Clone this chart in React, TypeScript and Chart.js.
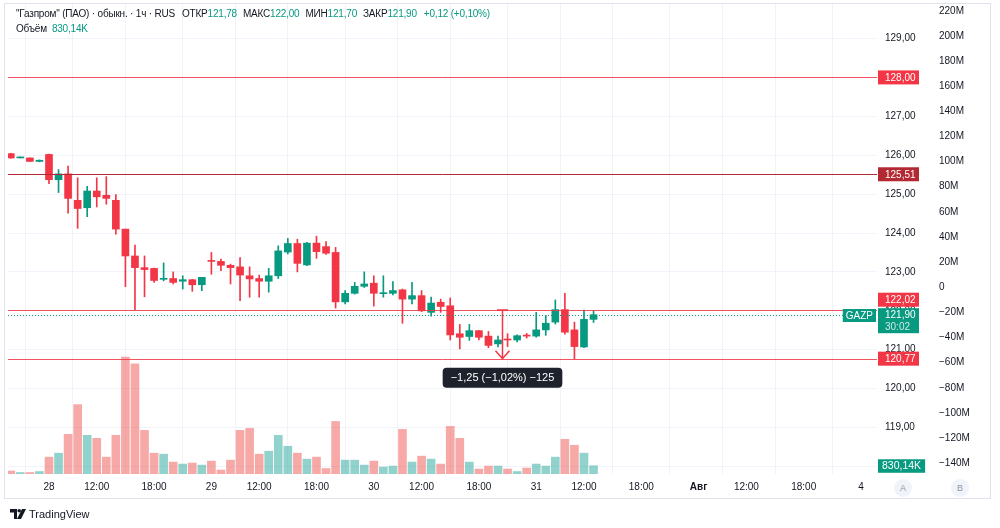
import React, { useEffect, useRef } from 'react';
import { Chart, registerables } from 'chart.js';

Chart.register(...registerables);

// ---------- data ----------
const opens = [126.04, 125.93, 125.93, 125.84, 126.02, 125.37, 125.52, 124.84, 124.65, 125.08,
  124.97, 124.84, 124.10, 123.41, 123.11, 123.09, 122.81, 122.83, 122.76, 122.80,
  122.67, 123.29, 123.27, 123.17, 123.13, 122.90, 122.83, 122.76, 122.90, 123.51,
  123.73, 123.18, 123.74, 123.65, 123.50, 122.23, 122.45, 122.63, 122.71, 122.44,
  122.45, 122.54, 122.30, 122.39, 121.96, 122.22, 122.13, 121.41, 121.34, 121.49,
  121.35, 121.15, 121.27, 121.25, 121.37, 121.35, 121.51, 121.71, 122.03, 121.51,
  121.07, 121.78];
const highs = [126.05, 125.94, 125.93, 125.88, 126.03, 125.63, 125.72, 125.42, 125.20, 125.42,
  125.45, 124.99, 124.10, 123.69, 123.41, 123.10, 123.23, 123.00, 122.90, 122.81,
  122.86, 123.50, 123.33, 123.20, 123.37, 123.13, 122.92, 123.09, 123.67, 123.86,
  123.84, 123.76, 123.92, 123.78, 123.63, 122.52, 122.73, 123.00, 122.90, 122.90,
  122.75, 122.56, 122.73, 122.52, 122.35, 122.30, 122.33, 121.65, 121.65, 121.50,
  121.47, 121.35, 121.41, 121.38, 121.42, 121.96, 121.88, 122.28, 122.45, 121.71,
  122.02, 122.00];
const lows = [125.92, 125.93, 125.84, 125.83, 125.27, 125.04, 124.51, 124.12, 124.42, 124.67,
  124.74, 123.97, 122.62, 122.03, 122.36, 122.73, 122.77, 122.69, 122.56, 122.50,
  122.52, 122.94, 123.03, 122.69, 122.26, 122.35, 122.35, 122.48, 122.83, 123.46,
  123.00, 123.16, 123.35, 123.45, 122.07, 122.18, 122.43, 122.60, 122.12, 122.35,
  122.41, 121.68, 122.18, 121.98, 121.86, 121.96, 121.25, 121.02, 121.24, 121.25,
  121.05, 121.07, 121.08, 121.20, 121.30, 121.32, 121.37, 121.66, 121.40, 120.77,
  121.05, 121.70];
const closes = [125.93, 125.94, 125.84, 125.87, 125.37, 125.52, 124.89, 124.63, 125.08, 124.93,
  124.89, 124.10, 123.41, 123.11, 123.06, 122.78, 122.83, 122.73, 122.80, 122.67,
  122.86, 123.27, 123.17, 123.11, 122.92, 122.82, 122.76, 122.90, 123.54, 123.73,
  123.22, 123.74, 123.52, 123.48, 122.23, 122.45, 122.63, 122.69, 122.45, 122.46,
  122.52, 122.30, 122.39, 122.00, 122.20, 122.11, 121.38, 121.32, 121.49, 121.32,
  121.11, 121.25, 121.25, 121.36, 121.35, 121.51, 121.68, 122.03, 121.45, 121.08,
  121.78, 121.90];
// volume, millions of shares
const volumes = [0.30, 0.15, 0.15, 0.25, 1.70, 2.10, 4.00, 7.00, 3.90, 3.60,
  1.70, 3.90, 11.80, 11.10, 4.40, 2.10, 2.00, 1.20, 1.00, 1.10,
  0.90, 1.30, 0.40, 1.40, 4.40, 4.60, 2.00, 2.30, 3.90, 2.80,
  2.10, 1.50, 1.70, 0.55, 5.30, 1.40, 1.40, 0.90, 1.30, 0.70,
  0.80, 4.50, 1.20, 1.80, 1.50, 1.00, 4.80, 3.60, 1.20, 0.50,
  0.80, 0.80, 0.50, 0.25, 0.60, 1.00, 0.80, 1.70, 3.50, 2.90,
  2.10, 0.83014];

const xTickIndex = [4, 9, 15, 21, 26, 32, 38, 43, 49, 55, 60, 66, 72, 77, 83, 89];
const xTickLabels = ['28', '12:00', '18:00', '29', '12:00', '18:00', '30', '12:00', '18:00', '31', '12:00', '18:00', 'Авг', '12:00', '18:00', '4'];
const priceTicks = [118, 119, 120, 121, 122, 123, 124, 125, 126, 127, 128, 129];
const volAxisTicks = [-140, -120, -100, -80, -60, -40, -20, 0, 20, 40, 60, 80, 100, 120, 140, 160, 180, 200, 220];

const levelLines = [128.0, 125.51, 122.02, 120.77];
const levelKinds = ['red', 'dark', 'red', 'red'];
const measureFrom = 122.02;
const measureTo = 120.77;
const measureBar = 51.4;
const symbol = 'GAZP';
const timer = '30:02';
const titleText = '"Газпром" (ПАО) · обыкн. · 1ч · RUS';

// ---------- style ----------
const UP = '#089981';
const DOWN = '#F23645';
const DARK_RED = '#B22833';
const UP_VOL = 'rgba(38,166,154,0.5)';
const DOWN_VOL = 'rgba(239,83,80,0.5)';
const TEXT = '#131722';
const GRID = '#F0F3FA';
const FONT = '"Liberation Sans", Arial, sans-serif';

const fmt = (v: number) => v.toFixed(2).replace('.', ',');
const signed = (v: number, s: string) => (v < 0 ? '\u2212' : '+') + s;
const fmtVolK = (v: number) => (v * 1000).toFixed(2).replace('.', ',') + 'K';

const lastO = opens[opens.length - 1];
const lastH = highs[highs.length - 1];
const lastL = lows[lows.length - 1];
const lastC = closes[closes.length - 1];
const prevC = closes[closes.length - 2];
const chg = lastC - prevC;
const chgPct = (chg / prevC) * 100;

function roundRect(ctx: CanvasRenderingContext2D, x: number, y: number, w: number, h: number, r: number) {
  ctx.beginPath();
  ctx.moveTo(x + r, y);
  ctx.lineTo(x + w - r, y);
  ctx.quadraticCurveTo(x + w, y, x + w, y + r);
  ctx.lineTo(x + w, y + h - r);
  ctx.quadraticCurveTo(x + w, y + h, x + w - r, y + h);
  ctx.lineTo(x + r, y + h);
  ctx.quadraticCurveTo(x, y + h, x, y + h - r);
  ctx.lineTo(x, y + r);
  ctx.quadraticCurveTo(x, y, x + r, y);
  ctx.closePath();
}

const overlayPlugin = {
  id: 'overlay',
  afterDatasetsDraw(chart: any) {
    const { ctx, chartArea: ca, scales } = chart;
    const y = scales.y;
    const x = scales.x;
    ctx.save();
    ctx.beginPath();
    ctx.rect(ca.left, ca.top, ca.right - ca.left, ca.bottom - ca.top);
    ctx.clip();
    levelLines.forEach((lv, i) => {
      const py = Math.round(y.getPixelForValue(lv)) + 0.5;
      ctx.strokeStyle = levelKinds[i] === 'dark' ? DARK_RED : 'rgba(242,54,69,0.85)';
      ctx.lineWidth = 1;
      ctx.beginPath();
      ctx.moveTo(ca.left, py);
      ctx.lineTo(ca.right, py);
      ctx.stroke();
    });
    const cy = Math.round(y.getPixelForValue(lastC)) + 0.5;
    ctx.strokeStyle = UP;
    ctx.setLineDash([1, 2]);
    ctx.beginPath();
    ctx.moveTo(ca.left, cy);
    ctx.lineTo(ca.right, cy);
    ctx.stroke();
    ctx.setLineDash([]);
    const mx = Math.round(x.getPixelForValue(measureBar)) + 0.5;
    const yt = y.getPixelForValue(measureFrom);
    const yb = y.getPixelForValue(measureTo);
    ctx.strokeStyle = DOWN;
    ctx.lineWidth = 1.5;
    ctx.beginPath();
    ctx.moveTo(mx, yt);
    ctx.lineTo(mx, yb);
    ctx.moveTo(mx - 5.5, yt);
    ctx.lineTo(mx + 5.5, yt);
    ctx.moveTo(mx - 7, yb - 8);
    ctx.lineTo(mx, yb);
    ctx.lineTo(mx + 7, yb - 8);
    ctx.stroke();
    ctx.restore();

    const d = measureTo - measureFrom;
    const pct = (d / measureFrom) * 100;
    const ticks = Math.round(d * 100);
    const txt = `${signed(d, fmt(Math.abs(d)))} (${signed(pct, fmt(Math.abs(pct)))}%) ${signed(ticks, String(Math.abs(ticks)))}`;
    ctx.save();
    ctx.font = `11px ${FONT}`;
    const tw = ctx.measureText(txt).width;
    const bw = tw + 16;
    const bh = 20;
    const bx = mx - bw / 2;
    const by = yb + 9;
    ctx.fillStyle = '#1E222D';
    roundRect(ctx, bx, by, bw, bh, 4);
    ctx.fill();
    ctx.fillStyle = '#FFFFFF';
    ctx.textAlign = 'center';
    ctx.textBaseline = 'middle';
    ctx.fillText(txt, mx, by + bh / 2 + 0.5);
    ctx.restore();

    ctx.save();
    ctx.font = `10px ${FONT}`;
    const sw = ctx.measureText(symbol).width + 6;
    const sTop = cy - 6.5;
    ctx.fillStyle = UP;
    ctx.fillRect(ca.right - sw - 1, sTop, sw, 13);
    ctx.fillStyle = '#fff';
    ctx.textAlign = 'center';
    ctx.textBaseline = 'middle';
    ctx.fillText(symbol, ca.right - 1 - sw / 2, sTop + 7);
    ctx.restore();
  },
  afterDraw(chart: any) {
    const { ctx, chartArea: ca, scales } = chart;
    const y = scales.y;
    const yv = scales.yVol;
    const left = ca.right + 1;
    const w = 41;
    const h = 14;
    ctx.save();
    ctx.font = `10px ${FONT}`;
    ctx.textBaseline = 'middle';
    const drawBox = (cyy: number, bg: string, text: string) => {
      ctx.fillStyle = bg;
      ctx.fillRect(left, cyy - h / 2, w, h);
      ctx.fillStyle = '#fff';
      ctx.textAlign = 'left';
      ctx.fillText(text, left + 7, cyy + 0.5);
    };
    drawBox(y.getPixelForValue(levelLines[0]), DOWN, fmt(levelLines[0]));
    drawBox(y.getPixelForValue(levelLines[1]), DARK_RED, fmt(levelLines[1]));
    drawBox(y.getPixelForValue(levelLines[3]), DOWN, fmt(levelLines[3]));
    const cy = y.getPixelForValue(lastC);
    const top = cy - 6.5;
    drawBox(top - 1.5 - h / 2, DOWN, fmt(levelLines[2]));
    ctx.fillStyle = UP;
    ctx.fillRect(left, top, w, 25);
    ctx.fillStyle = '#fff';
    ctx.textAlign = 'left';
    ctx.fillText(fmt(lastC), left + 7, top + 7);
    ctx.fillStyle = 'rgba(255,255,255,0.8)';
    ctx.fillText(timer, left + 7, top + 19);
    const vy = yv.getPixelForValue(volumes[volumes.length - 1]);
    const vt = fmtVolK(volumes[volumes.length - 1]);
    ctx.font = `10.5px ${FONT}`;
    const vw = ctx.measureText(vt).width + 8;
    ctx.fillStyle = UP;
    ctx.fillRect(left, vy - 6.5, vw, 13.5);
    ctx.fillStyle = '#fff';
    ctx.textAlign = 'center';
    ctx.fillText(vt, left + vw / 2, vy + 0.5);
    ctx.restore();
  },
};

const noVPad = (w: number) => (s: any) => {
  s.width = w;
  s.paddingTop = 0;
  s.paddingBottom = 0;
};

export default function App() {
  const ref = useRef<HTMLCanvasElement>(null);

  useEffect(() => {
    if (!ref.current) return;
    const up = closes.map((c, i) => c >= opens[i]);
    const chart = new Chart(ref.current, {
      type: 'bar',
      data: {
        datasets: [
          {
            label: 'body',
            data: opens.map((o, i) => ({ x: i, y: [o, closes[i]] })) as any,
            backgroundColor: up.map((u) => (u ? UP : DOWN)),
            barThickness: 7,
            minBarLength: 1,
            grouped: false,
            order: 1,
            yAxisID: 'y',
          } as any,
          {
            label: 'wick',
            data: lows.map((l, i) => ({ x: i, y: [l, highs[i]] })) as any,
            backgroundColor: up.map((u) => (u ? UP : DOWN)),
            barThickness: 1,
            minBarLength: 1,
            grouped: false,
            order: 2,
            yAxisID: 'y',
          } as any,
          {
            label: 'volume',
            data: volumes.map((v, i) => ({ x: i, y: v })) as any,
            backgroundColor: up.map((u) => (u ? UP_VOL : DOWN_VOL)),
            barThickness: 8,
            grouped: false,
            order: 3,
            yAxisID: 'yVol',
          } as any,
        ],
      },
      options: {
        responsive: true,
        maintainAspectRatio: false,
        animation: false,
        events: [],
        layout: { padding: { left: 8, top: 4, right: 0, bottom: 30 } },
        plugins: { legend: { display: false }, tooltip: { enabled: false } },
        scales: {
          x: {
            type: 'linear',
            min: -0.29,
            max: 90.67,
            offset: false,
            afterBuildTicks: (s: any) => {
              s.ticks = xTickIndex.map((v) => ({ value: v }));
            },
            afterFit: (s: any) => {
              s.height = 24;
            },
            grid: { color: GRID, drawTicks: false },
            border: { display: false },
            ticks: {
              autoSkip: false,
              maxRotation: 0,
              padding: 7,
              color: TEXT,
              font: (c: any) => ({
                family: FONT,
                size: 10,
                weight: c.tick && c.tick.label === 'Авг' ? 'bold' : 'normal',
              }),
              callback: (v: any) => {
                const k = xTickIndex.indexOf(Number(v));
                return k >= 0 ? xTickLabels[k] : '';
              },
            },
          },
          y: {
            position: 'right',
            weight: 0,
            min: 117.805,
            max: 129.887,
            afterBuildTicks: (s: any) => {
              s.ticks = priceTicks.map((v) => ({ value: v }));
            },
            afterFit: noVPad(61),
            grid: { color: GRID, drawTicks: false },
            border: { display: false },
            ticks: {
              padding: 8,
              color: TEXT,
              font: { family: FONT, size: 10 },
              callback: (v: any) => fmt(Number(v)),
            },
          },
          yM: {
            position: 'right',
            weight: 1,
            min: -148.59,
            max: 225.41,
            afterBuildTicks: (s: any) => {
              s.ticks = volAxisTicks.map((v) => ({ value: v }));
            },
            afterFit: noVPad(62),
            grid: { display: false, drawTicks: false },
            border: { display: false },
            ticks: {
              padding: 1,
              color: TEXT,
              font: { family: FONT, size: 10 },
              callback: (v: any) => {
                const n = Number(v);
                if (n === 0) return '0';
                return (n < 0 ? '\u2212' : '') + Math.abs(n) + 'M';
              },
            },
          },
          yVol: {
            display: false,
            min: 0,
            max: 47.4,
          },
        },
      } as any,
      plugins: [overlayPlugin],
    });
    return () => chart.destroy();
  }, []);

  const teal = { color: UP };
  const row: React.CSSProperties = {
    position: 'absolute',
    left: 16,
    whiteSpace: 'nowrap',
    fontFamily: FONT,
    fontSize: 10,
    lineHeight: '12px',
    letterSpacing: '-0.2px',
    color: TEXT,
  };
  const chgText = `${chg >= 0 ? '+' : '\u2212'}${fmt(Math.abs(chg))} (${chg >= 0 ? '+' : '\u2212'}${fmt(Math.abs(chgPct))}%)`;

  return (
    <div style={{ position: 'absolute', left: 0, top: 0, width: 1000, height: 528, background: '#fff', overflow: 'hidden' }}>
      <div style={{ position: 'absolute', left: 4, top: 3, width: 985, height: 494, border: '1px solid #E0E3EB' }} />
      <div style={{ position: 'absolute', left: 0, top: 0, width: 1000, height: 528 }}>
        <canvas ref={ref} />
      </div>
      <div style={{ ...row, top: 8 }}>
        <span>{titleText}</span>
        <span style={{ marginLeft: 7 }}>ОТКР</span>
        <span style={teal}>{fmt(lastO)}</span>
        <span style={{ marginLeft: 6 }}>МАКС</span>
        <span style={teal}>{fmt(lastH)}</span>
        <span style={{ marginLeft: 6 }}>МИН</span>
        <span style={teal}>{fmt(lastL)}</span>
        <span style={{ marginLeft: 6 }}>ЗАКР</span>
        <span style={teal}>{fmt(lastC)}</span>
        <span style={{ marginLeft: 7, ...teal }}>{chgText}</span>
      </div>
      <div style={{ ...row, top: 23 }}>
        <span>Объём</span>
        <span style={{ marginLeft: 5, ...teal }}>{fmtVolK(volumes[volumes.length - 1])}</span>
      </div>

      {['A', 'B'].map((t, i) => (
        <div
          key={t}
          style={{
            position: 'absolute',
            left: (i === 0 ? 903 : 960) - 9,
            top: 488 - 9,
            width: 18,
            height: 18,
            borderRadius: 9,
            background: '#F0F3FA',
            color: '#9598A1',
            fontFamily: FONT,
            fontSize: 9,
            lineHeight: '18px',
            textAlign: 'center',
          }}
        >
          {t}
        </div>
      ))}

      <div style={{ position: 'absolute', left: 10, top: 508, display: 'flex', alignItems: 'center', gap: 3 }}>
        <svg width="16" height="10" viewBox="0 0 16 10">
          <path d="M0 0 H7 V10 H4 V3.5 H0 Z" fill={TEXT} />
          <circle cx="9.2" cy="1.8" r="1.8" fill={TEXT} />
          <path d="M12 0 H16 L11 10 H7 Z" fill={TEXT} />
        </svg>
        <span style={{ fontFamily: FONT, fontSize: 11, color: TEXT, lineHeight: '12px' }}>TradingView</span>
      </div>
    </div>
  );
}
